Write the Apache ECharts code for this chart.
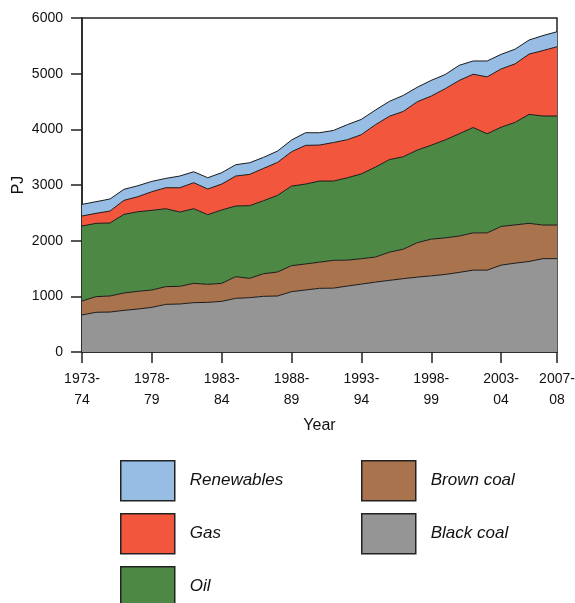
<!DOCTYPE html>
<html>
<head>
<meta charset="utf-8">
<script src="https://cdn.jsdelivr.net/npm/echarts@6/dist/echarts.min.js"></script>
<style>
  html, body { margin: 0; padding: 0; background: #fff; }
  #chart { width: 575px; height: 603px; }
</style>
</head>
<body>
<div id="chart"></div>
<script>
// data (PJ) ==================================================================
var years = ['1973-74','1974-75','1975-76','1976-77','1977-78','1978-79','1979-80','1980-81','1981-82','1982-83',
             '1983-84','1984-85','1985-86','1986-87','1987-88','1988-89','1989-90','1990-91','1991-92','1992-93',
             '1993-94','1994-95','1995-96','1996-97','1997-98','1998-99','1999-00','2000-01','2001-02','2002-03',
             '2003-04','2004-05','2005-06','2006-07','2007-08'];
var blackCoal  = [665, 713, 718, 748, 772, 802, 856, 862, 886, 892, 910, 964, 976, 1000, 1006, 1084, 1114, 1144,
                  1147, 1185, 1220, 1255, 1287, 1317, 1345, 1368, 1393, 1430, 1470, 1470, 1560, 1596, 1626, 1677, 1677];
var brownCoal  = [251, 281, 288, 312, 318, 312, 318, 318, 347, 324, 323, 389, 347, 407, 431, 467, 467, 470,
                  500, 465, 456, 451, 506, 530, 619, 659, 657, 653, 670, 670, 695, 688, 685, 604, 604];
var oil        = [1347, 1317, 1311, 1413, 1430, 1431, 1400, 1334, 1341, 1251, 1318, 1270, 1306, 1311, 1377, 1430, 1436, 1457,
                  1424, 1480, 1524, 1616, 1662, 1661, 1664, 1688, 1760, 1837, 1893, 1780, 1783, 1841, 1958, 1958, 1958];
var gas        = [180, 180, 215, 251, 270, 335, 377, 437, 467, 461, 466, 538, 562, 581, 593, 617, 695, 647,
                  692, 684, 705, 761, 780, 814, 868, 883, 920, 958, 957, 1022, 1047, 1051, 1083, 1176, 1245];
var renewables = [209, 209, 216, 198, 197, 185, 168, 210, 197, 203, 204, 203, 209, 198, 203, 210, 227, 221,
                  217, 271, 274, 263, 267, 288, 260, 282, 255, 272, 238, 286, 262, 264, 252, 270, 269];
var labelIdx = [0, 5, 10, 15, 20, 25, 30, 34];

var chart = echarts.init(document.getElementById('chart'));
var fontF = '"Liberation Sans", Arial, Helvetica, sans-serif';

function layer(name, values, colour) {
    return {
        name: name, type: 'line', stack: 'energy', data: values,
        showSymbol: false, symbol: 'none',
        itemStyle: { color: colour },
        lineStyle: { color: '#1a1a1a', width: 1 },
        areaStyle: { color: colour, opacity: 1 }
    };
}

// one legend per box so the 2-column layout does not wrap
function legendBox(name, left, top) {
    return {
        left: left, top: top, padding: 0, itemWidth: 54, itemHeight: 40,
        icon: 'rect', itemStyle: { borderColor: '#222', borderWidth: 1.5 },
        textStyle: { fontFamily: fontF, fontSize: 17, fontStyle: 'italic', color: '#111', padding: [0, 0, 0, 10] },
        data: [name]
    };
}

chart.setOption({
    animation: false,
    grid: { left: 82, right: 18, top: 18, bottom: 251, outerBoundsMode: 'none',
            show: true, borderColor: '#222', borderWidth: 1.5 },
    xAxis: {
        type: 'category', data: years, boundaryGap: false,
        name: 'Year', nameLocation: 'middle', nameGap: 66,
        nameTextStyle: { fontFamily: fontF, fontSize: 16, color: '#111' },
        axisLine: { lineStyle: { color: '#222', width: 1.5 } },
        axisTick: { length: 11, lineStyle: { color: '#222', width: 1.5 },
                    interval: function (i) { return labelIdx.indexOf(i) >= 0; } },
        axisLabel: {
            interval: function (i) { return labelIdx.indexOf(i) >= 0; },
            formatter: function (v) { return v.replace('-', '-\n'); },
            fontFamily: fontF, fontSize: 14, color: '#111', lineHeight: 21, margin: 17
        }
    },
    yAxis: {
        type: 'value', min: 0, max: 6000, interval: 1000,
        name: 'PJ', nameLocation: 'middle', nameGap: 55, nameRotate: 90, nameMoveOverlap: false,
        nameTextStyle: { fontFamily: fontF, fontSize: 16, color: '#111' },
        axisLine: { show: true, lineStyle: { color: '#222', width: 1.5 } },
        axisTick: { show: true, length: 11, lineStyle: { color: '#222', width: 1.5 } },
        axisLabel: { fontFamily: fontF, fontSize: 14, color: '#111', margin: 19,
                     formatter: function (v) { return String(v); } },
        splitLine: { show: false }
    },
    legend: [
        legendBox('Renewables', 120, 460),
        legendBox('Gas', 120, 513),
        legendBox('Oil', 120, 566),
        legendBox('Brown coal', 361, 460),
        legendBox('Black coal', 361, 513)
    ],
    graphic: [{
        type: 'text', x: 548, y: 341,
        style: { text: 'AERA 2.23', fontFamily: fontF, fontSize: 13, fill: '#222',
                 textAlign: 'right', textVerticalAlign: 'middle' }
    }],
    series: [
        layer('Black coal', blackCoal, '#959595'),
        layer('Brown coal', brownCoal, '#a9734d'),
        layer('Oil', oil, '#4d8944'),
        layer('Gas', gas, '#f2573d'),
        layer('Renewables', renewables, '#97bde4')
    ]
});
</script>
</body>
</html>
